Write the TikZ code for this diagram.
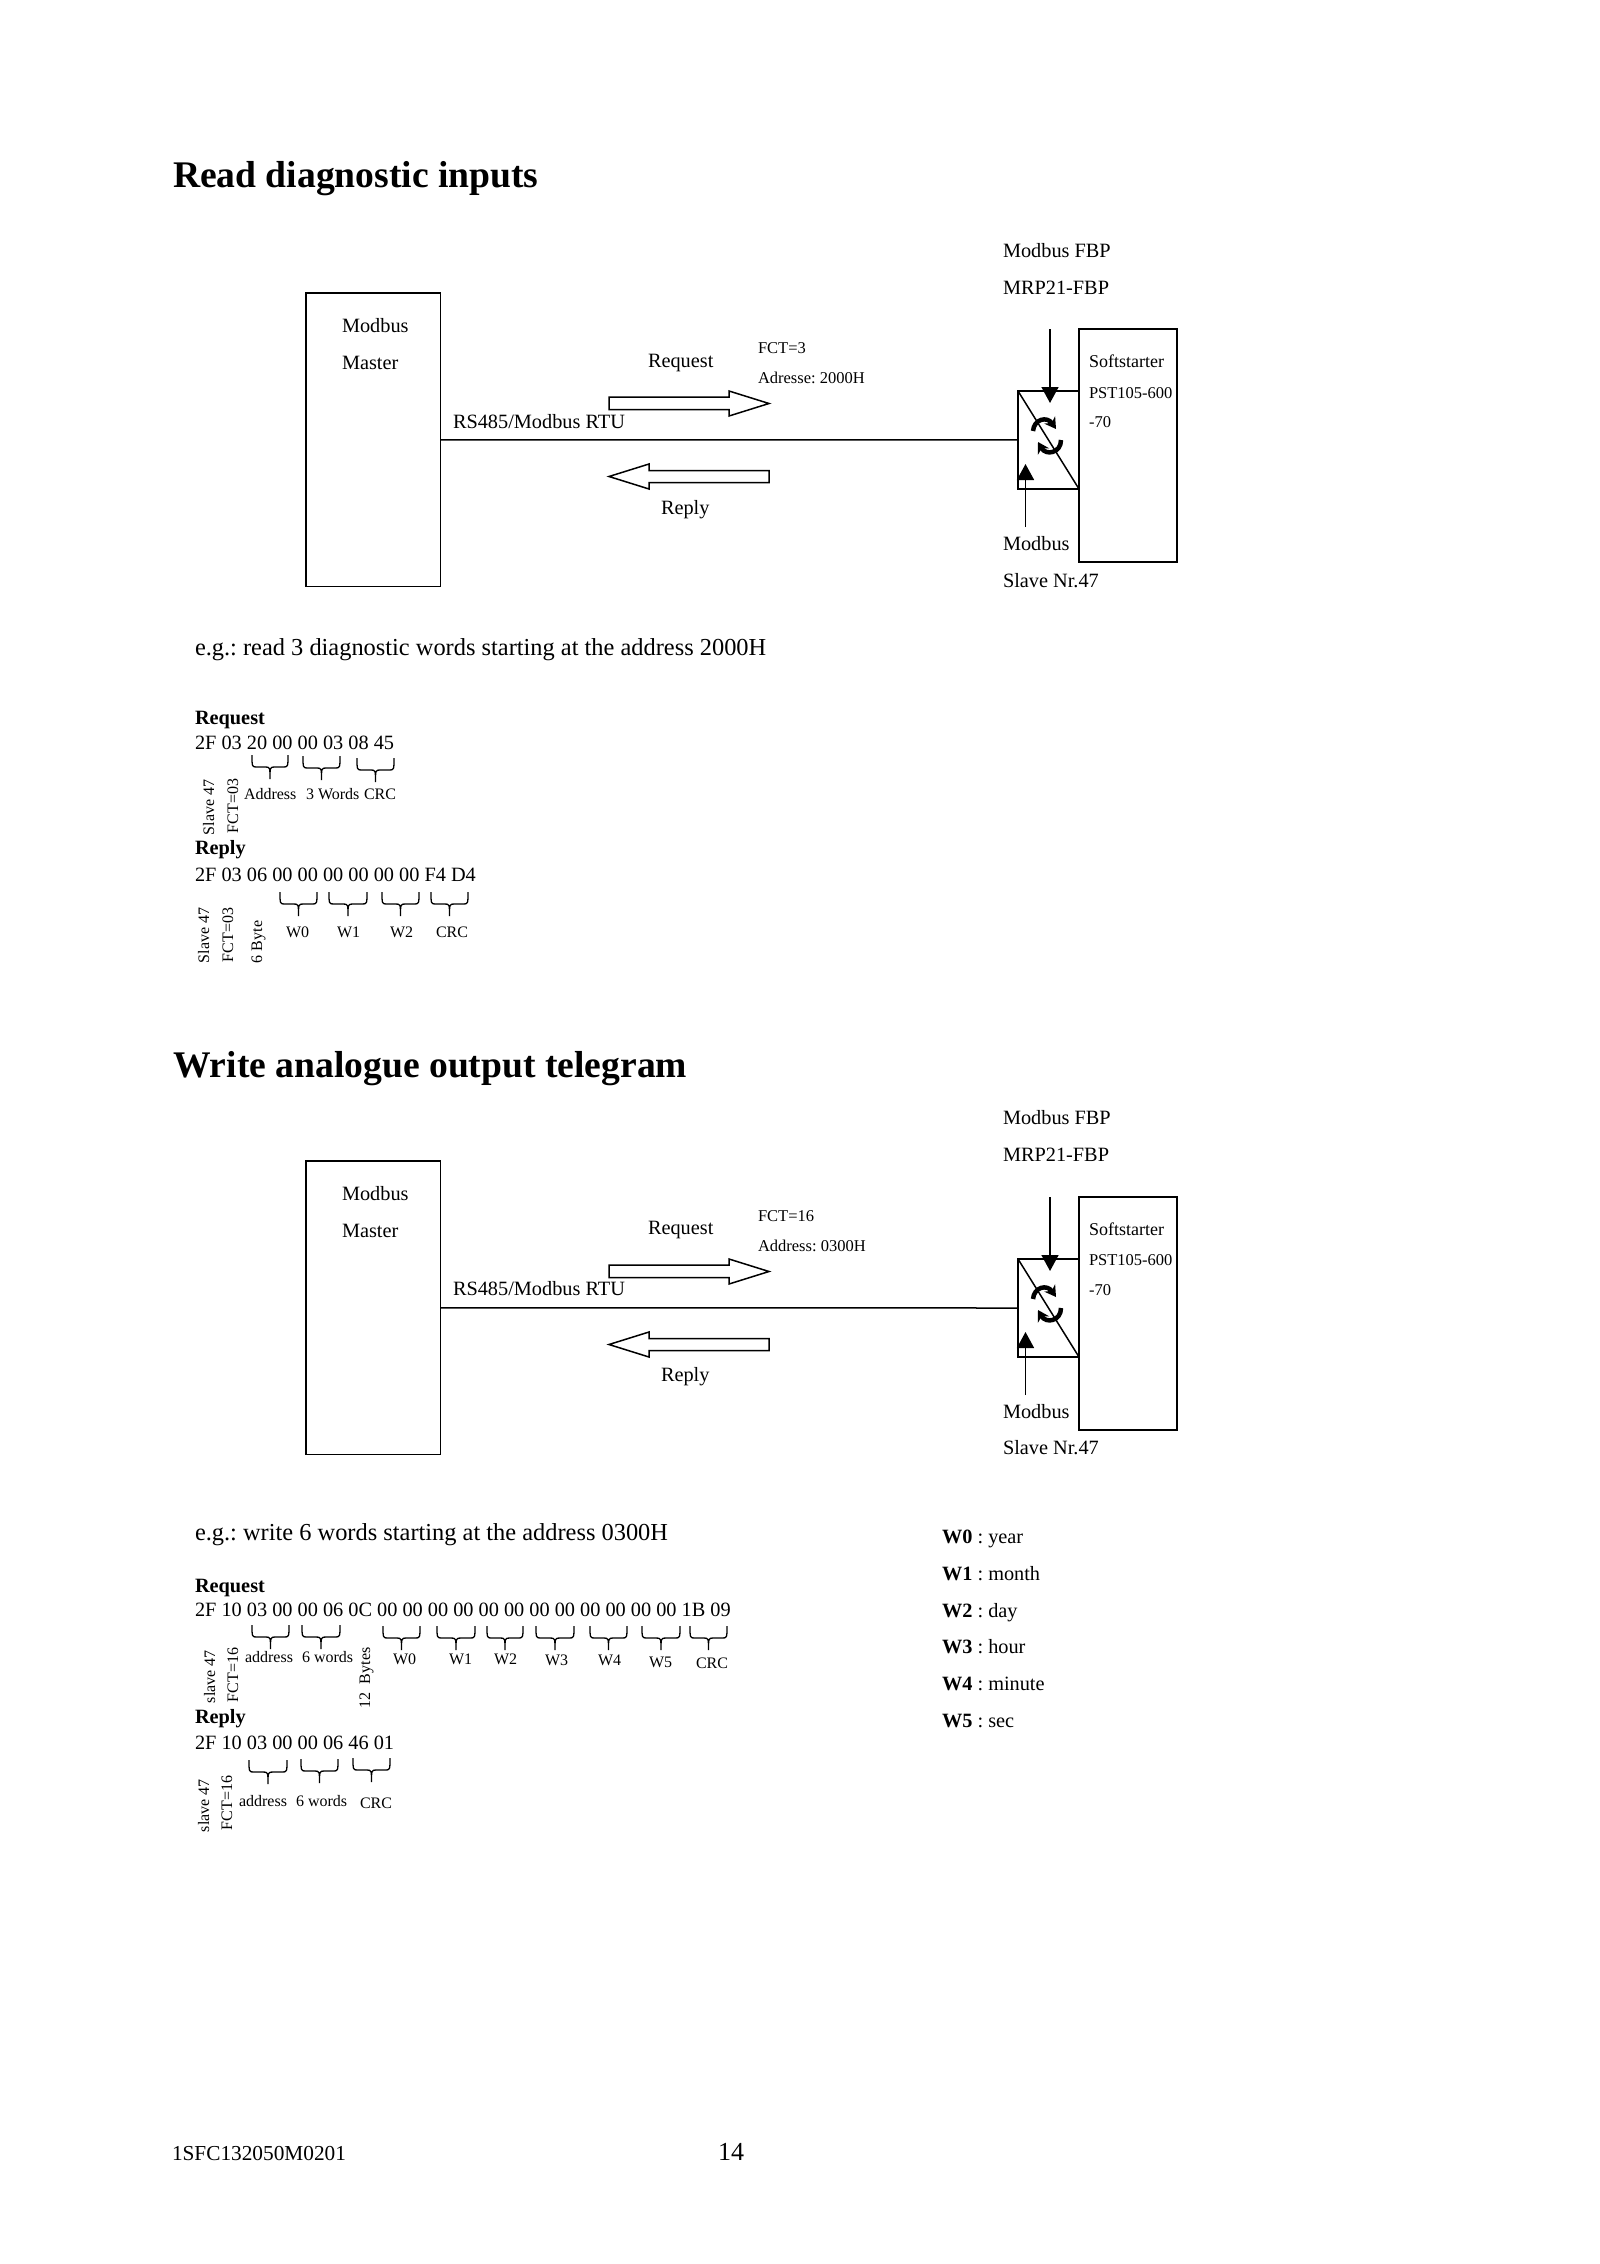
\documentclass[tikz,border=0pt]{standalone}
\usepackage{fontspec}
\setmainfont{Liberation Serif}
\usetikzlibrary{arrows.meta, calc}

\begin{document}
\frenchspacing
\begin{tikzpicture}[
    x=1pt, y=-1pt,
    line width=1.5pt,
    every node/.style={inner sep=0pt, outer sep=0pt},
    box/.style={draw, anchor=north west},
    heading/.style={anchor=base west, font=\fontsize{37.6}{37.6}\selectfont\bfseries},
    txt/.style={anchor=base west, font=\fontsize{20.3}{20.3}\selectfont},
    boldtxt/.style={anchor=base west, font=\fontsize{20.3}{20.3}\selectfont\bfseries},
    eg/.style={anchor=base west, font=\fontsize{24.4}{24.4}\selectfont},
    smalltxt/.style={anchor=base west, font=\fontsize{16.5}{16.5}\selectfont},
    softtxt/.style={anchor=base west, font=\fontsize{18}{18}\selectfont},
    tinytxt/.style={anchor=base west, font=\fontsize{16}{16}\selectfont},
    sidetxt/.style={anchor=base west, rotate=90, font=\fontsize{16}{16}\selectfont},
    brace/.style={line width=1.3pt, to path={
        .. controls ($(\tikztostart)+(0,12)$) .. ($(\tikztostart)!0.14!(\tikztotarget)+(0,12)$)
        -- ($(\tikztostart)!0.36!(\tikztotarget)+(0,12)$)
        .. controls ($(\tikztostart)!0.5!(\tikztotarget)+(0,12)$) .. ($(\tikztostart)!0.5!(\tikztotarget)+(0,24)$)
        .. controls ($(\tikztostart)!0.5!(\tikztotarget)+(0,12)$) .. ($(\tikztostart)!0.64!(\tikztotarget)+(0,12)$)
        -- ($(\tikztostart)!0.86!(\tikztotarget)+(0,12)$)
        .. controls ($(\tikztotarget)+(0,12)$) .. (\tikztotarget)}},
    wedge/.style={-{Triangle[length=16pt, width=17pt]}},
    spin/.style={-{Stealth[length=11pt, width=13pt]}, line width=4.5pt}
]
\useasboundingbox (0,0) rectangle (1600,2264);

% First panel
\node[heading] (title1) at (173,187) {Read diagnostic inputs};
\node[box, minimum width=134.5pt, minimum height=293.7pt] (master1) at (306,293) {};
\node[box, minimum width=98pt, minimum height=233pt] (starter1) at (1079,329) {};
\node[box, minimum width=61pt, minimum height=98pt] (gateway1) at (1018,391) {};
\coordinate (intop1) at (1050,329);
\coordinate (intip1) at (1050,403);
\coordinate (outtail1) at (1025.5,527);
\coordinate (outtip1) at (1025.5,464);
\draw (master1) -- (gateway1);
\draw (gateway1.north west) -- (gateway1.south east);
\draw[wedge] (intop1) -- (intip1);
\draw[wedge] (outtail1) -- (outtip1);
\draw[spin] (1033,431) .. controls (1034,419) and (1047,416) .. (1056,429);
\draw[spin] (1061,440) .. controls (1061,453) and (1046,456) .. (1038,442);
\draw (609,397) -- (729,397) -- (729,391) -- (769,403.5) -- (729,416) -- (729,409.5) -- (609,409.5) -- cycle;
\draw (769,470.5) -- (649,470.5) -- (649,464) -- (609,476.5) -- (649,489) -- (649,482.5) -- (769,482.5) -- cycle;
\node[txt] (fbp1) at (1003,257) {Modbus FBP};
\node[txt] (mrp1) at (1003,294) {MRP21-FBP};
\node[txt] (modbus1) at (342,332) {Modbus};
\node[txt] (mastertxt1) at (342,369) {Master};
\node[txt] (request1) at (648,367) {Request};
\node[smalltxt] (fct1) at (758,353) {FCT=3};
\node[smalltxt] (addr1) at (758,383) {Adresse: 2000H};
\node[txt] (rtu1) at (453,428) {RS485/Modbus RTU};
\node[txt] (reply1) at (661,514) {Reply};
\node[softtxt] (soft1) at (1089,367) {Softstarter};
\node[smalltxt] (pst1) at (1089,398) {PST105-600};
\node[smalltxt] (volt1) at (1089,427) {-70};
\node[txt] (slave1) at (1003,550) {Modbus};
\node[txt] (slavenr1) at (1003,587) {Slave Nr.47};

% First telegrams
\node[eg] (eg1) at (195,655) {e.g.: read 3 diagnostic words starting at the address 2000H};
\node[boldtxt] (req1) at (195,724) {Request};
\node[txt] (reqhex1) at (195,749) {2F 03 20 00 00 03 08 45};
\draw[brace] (252,755) to (288,755);
\draw[brace] (303,756) to (340,756);
\draw[brace] (357,758) to (394,758);
\node[tinytxt] (reqaddr1) at (244,799) {Address};
\node[tinytxt] (reqwords1) at (306,799) {3 Words};
\node[tinytxt] (reqcrc1) at (364,799) {CRC};
\node[sidetxt] (reqslave1) at (214,835) {Slave 47};
\node[sidetxt] (reqfct1) at (238,833) {FCT=03};
\node[boldtxt] (rep1) at (195,854) {Reply};
\node[txt] (rephex1) at (195,881) {2F 03 06 00 00 00 00 00 00 F4 D4};
\draw[brace] (280,892) to (317,892);
\draw[brace] (329,892) to (367,892);
\draw[brace] (382,892) to (419,892);
\draw[brace] (431,892) to (468,892);
\node[tinytxt] (w01) at (286,937) {W0};
\node[tinytxt] (w11) at (337,937) {W1};
\node[tinytxt] (w21) at (390,937) {W2};
\node[tinytxt] (repcrc1) at (436,937) {CRC};
\node[sidetxt] (repslave1) at (209,963) {Slave 47};
\node[sidetxt] (repfct1) at (233,962) {FCT=03};
\node[sidetxt] (repbyte1) at (262,963) {6 Byte};

% Second panel
\node[heading] (title2) at (173,1077) {Write analogue output telegram};
\node[box, minimum width=134.5pt, minimum height=293.7pt] (master2) at (306,1161) {};
\node[box, minimum width=98pt, minimum height=233pt] (starter2) at (1079,1197) {};
\node[box, minimum width=61pt, minimum height=98pt] (gateway2) at (1018,1259) {};
\coordinate (intop2) at (1050,1197);
\coordinate (intip2) at (1050,1271);
\coordinate (outtail2) at (1025.5,1395);
\coordinate (outtip2) at (1025.5,1332);
\draw (master2) -- (gateway2);
\draw (gateway2.north west) -- (gateway2.south east);
\draw[wedge] (intop2) -- (intip2);
\draw[wedge] (outtail2) -- (outtip2);
\draw[spin] (1033,1299) .. controls (1034,1287) and (1047,1284) .. (1056,1297);
\draw[spin] (1061,1308) .. controls (1061,1321) and (1046,1324) .. (1038,1310);
\draw (609,1265) -- (729,1265) -- (729,1259) -- (769,1271.5) -- (729,1284) -- (729,1277.5) -- (609,1277.5) -- cycle;
\draw (769,1338.5) -- (649,1338.5) -- (649,1332) -- (609,1344.5) -- (649,1357) -- (649,1350.5) -- (769,1350.5) -- cycle;
\node[txt] (fbp2) at (1003,1124) {Modbus FBP};
\node[txt] (mrp2) at (1003,1161) {MRP21-FBP};
\node[txt] (modbus2) at (342,1200) {Modbus};
\node[txt] (mastertxt2) at (342,1237) {Master};
\node[txt] (request2) at (648,1234) {Request};
\node[smalltxt] (fct2) at (758,1221) {FCT=16};
\node[smalltxt] (addr2) at (758,1251) {Address: 0300H};
\node[txt] (rtu2) at (453,1295) {RS485/Modbus RTU};
\node[txt] (reply2) at (661,1381) {Reply};
\node[softtxt] (soft2) at (1089,1235) {Softstarter};
\node[smalltxt] (pst2) at (1089,1265) {PST105-600};
\node[smalltxt] (volt2) at (1089,1295) {-70};
\node[txt] (slave2) at (1003,1418) {Modbus};
\node[txt] (slavenr2) at (1003,1454) {Slave Nr.47};

% Second telegrams
\node[eg] (eg2) at (195,1540) {e.g.: write 6 words starting at the address 0300H};
\node[boldtxt] (req2) at (195,1592) {Request};
\node[txt] (reqhex2) at (195,1616) {2F 10 03 00 00 06 0C 00 00 00 00 00 00 00 00 00 00 00 00 1B 09};
\draw[brace] (252,1625) to (289,1625);
\draw[brace] (302,1625) to (340,1625);
\draw[brace] (383,1626) to (420,1626);
\draw[brace] (437,1626) to (475,1626);
\draw[brace] (487,1626) to (523,1626);
\draw[brace] (536,1626) to (574,1626);
\draw[brace] (590,1626) to (627,1626);
\draw[brace] (642,1626) to (680,1626);
\draw[brace] (690,1626) to (727,1626);
\node[tinytxt] (reqaddr2) at (245,1662) {address};
\node[tinytxt] (reqwords2) at (302,1662) {6 words};
\node[tinytxt] (w02) at (393,1664) {W0};
\node[tinytxt] (w12) at (449,1664) {W1};
\node[tinytxt] (w22) at (494,1664) {W2};
\node[tinytxt] (w32) at (545,1665) {W3};
\node[tinytxt] (w42) at (598,1665) {W4};
\node[tinytxt] (w52) at (649,1667) {W5};
\node[tinytxt] (reqcrc2) at (696,1668) {CRC};
\node[sidetxt] (reqslave2) at (215,1703) {slave 47};
\node[sidetxt] (reqfct2) at (238,1702) {FCT=16};
\node[sidetxt] (reqbyte2) at (370,1708) {12\ \ Bytes};
\node[boldtxt] (rep2) at (195,1723) {Reply};
\node[txt] (rephex2) at (195,1749) {2F 10 03 00 00 06 46 01};
\draw[brace] (249,1760) to (287,1760);
\draw[brace] (301,1759) to (338,1759);
\draw[brace] (353,1758) to (390,1758);
\node[tinytxt] (repaddr2) at (239,1806) {address};
\node[tinytxt] (repwords2) at (296,1806) {6 words};
\node[tinytxt] (repcrc2) at (360,1808) {CRC};
\node[sidetxt] (repslave2) at (209,1832) {slave 47};
\node[sidetxt] (repfct2) at (232,1830) {FCT=16};

% Word list
\node[txt] (year) at (942,1543) {\textbf{W0} : year};
\node[txt] (month) at (942,1580) {\textbf{W1} : month};
\node[txt] (day) at (942,1617) {\textbf{W2} : day};
\node[txt] (hour) at (942,1653.5) {\textbf{W3} : hour};
\node[txt] (minute) at (942,1690.5) {\textbf{W4} : minute};
\node[txt] (sec) at (942,1727) {\textbf{W5} : sec};

% Footer
\node[txt, font=\fontsize{21.3}{21.3}\selectfont] (docid) at (172,2160) {1SFC132050M0201};
\node[txt, font=\fontsize{26}{26}\selectfont] (pageno) at (718,2160) {14};

\end{tikzpicture}
\end{document}
